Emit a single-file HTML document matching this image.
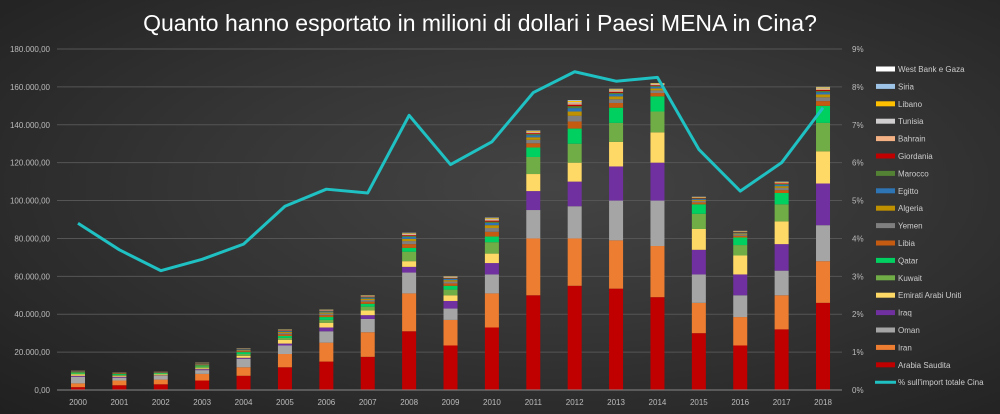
<!DOCTYPE html>
<html><head><meta charset="utf-8"><style>
html,body{margin:0;padding:0;width:1000px;height:414px;overflow:hidden}
body{background:radial-gradient(ellipse at 55% 45%,#444 0%,#353535 45%,#202020 100%);font-family:"Liberation Sans",sans-serif}
</style></head><body>
<svg id="c" width="1000" height="414" xmlns="http://www.w3.org/2000/svg" style="position:absolute;left:0;top:0"></svg>
<script>
(function(){
var s=document.getElementById('c');var h='';
var y0=390,yTop=49,H=y0-yTop;
function Y(v){return y0-v/180000*H}
h+='<text x="480" y="31" fill="#fff" font-size="23" text-anchor="middle" font-family="Liberation Sans,sans-serif">Quanto hanno esportato in milioni di dollari i Paesi MENA in Cina?</text>';
for(var i=0;i<=9;i++){var v=i*20000,y=Y(v);
 if(i>0)h+='<line x1="57" x2="842" y1="'+y+'" y2="'+y+'" stroke="#555" stroke-width="1"/>';
 var lab=(v==0)?'0,00':((v/1000)+'.000,00');
 h+='<text x="50" y="'+(y+3)+'" fill="#bbb" font-size="8" text-anchor="end">'+lab+'</text>';
 h+='<text x="852" y="'+(y+3)+'" fill="#bbb" font-size="8">'+i+'%</text>';}
var d=[[1500,3500,7000,7500,8200,8700,9300,10200],[2500,5000,6500,7000,7500,8000,8500,9300],[3000,5500,7500,7700,8200,8700,9000,9700],[5000,8500,10500,11000,11500,12500,13000,14500],[7500,12000,16500,17000,18000,19000,20000,22000],[12000,19000,23500,24500,26500,27500,28500,32000],[15000,25000,31000,33000,35500,37000,38500,42500],[17500,30500,37500,39500,42000,44000,45500,50000],[31000,51000,62000,65000,68000,73000,75000,83000],[23500,37000,43000,47000,50000,53000,55000,60000],[33000,51000,61000,67000,72000,78000,81000,91000],[50000,80000,95000,105000,114000,123000,128000,137000],[55000,80000,97000,110000,120000,130000,138000,153000],[53500,79000,100000,118000,131000,141000,149000,159000],[49000,76000,100000,120000,136000,147000,155000,162000],[30000,46000,61000,74000,85000,93000,98000,102000],[23500,38500,50000,61000,71000,76500,80500,84000],[32000,50000,63000,77000,89000,98000,104000,110000],[46000,68000,87000,109000,126000,141000,150000,160000]];
var cols=['#c00000','#ed7d31','#a5a5a5','#7030a0','#ffd966','#70ad47','#00d060'];
var rest=['#c55a11','#7f7f7f','#bf9000','#2e75b6','#548235','#c00000','#f4b183','#d0cece','#ffc000','#9dc3e6','#ffffff'];
var fr=[.25,.2,.15,.12,.07,.05,.05,.04,.04,.02,.01];
var pct=[4.4,3.7,3.15,3.45,3.85,4.85,5.3,5.2,7.25,5.95,6.55,7.85,8.4,8.15,8.25,6.35,5.25,6.0,7.45];
var pts=[];
for(var k=0;k<19;k++){var x=78+k*41.39,b=d[k],prev=0;
 for(var j=0;j<7;j++){h+='<rect x="'+(x-7)+'" y="'+Y(b[j])+'" width="14" height="'+(Y(prev)-Y(b[j]))+'" fill="'+cols[j]+'"/>';prev=b[j];}
 var r=b[7]-b[6];for(var j=0;j<11;j++){var v=prev+r*fr[j];h+='<rect x="'+(x-7)+'" y="'+Y(v)+'" width="14" height="'+(Y(prev)-Y(v))+'" fill="'+rest[j]+'"/>';prev=v;}
 h+='<text x="'+x+'" y="405" fill="#bbb" font-size="8" text-anchor="middle">'+(2000+k)+'</text>';
 pts.push(x+','+(y0-pct[k]/9*H));}
h+='<line x1="57" x2="842" y1="390" y2="390" stroke="#888"/>';
h+='<polyline points="'+pts.join(' ')+'" fill="none" stroke="#1fc1c3" stroke-width="3" stroke-linejoin="round"/>';
var lg=[['West Bank e Gaza','#fff'],['Siria','#9dc3e6'],['Libano','#ffc000'],['Tunisia','#d0cece'],['Bahrain','#f4b183'],['Giordania','#c00000'],['Marocco','#548235'],['Egitto','#2e75b6'],['Algeria','#bf9000'],['Yemen','#7f7f7f'],['Libia','#c55a11'],['Qatar','#00d060'],['Kuwait','#70ad47'],['Emirati Arabi Uniti','#ffd966'],['Iraq','#7030a0'],['Oman','#a5a5a5'],['Iran','#ed7d31'],['Arabia Saudita','#c00000']];
for(var i=0;i<lg.length;i++){var y=69+i*17.4;h+='<rect x="876" y="'+(y-2.5)+'" width="19" height="5" fill="'+lg[i][1]+'"/><text x="898" y="'+(y+3)+'" fill="#ccc" font-size="8">'+lg[i][0]+'</text>';}
var y=69+18*17.4;h+='<line x1="875" x2="896" y1="'+y+'" y2="'+y+'" stroke="#1fc1c3" stroke-width="3"/><text x="898" y="'+(y+3)+'" fill="#ccc" font-size="8">% sull\'import totale Cina</text>';
s.innerHTML=h;
})();
</script>
</body></html>
